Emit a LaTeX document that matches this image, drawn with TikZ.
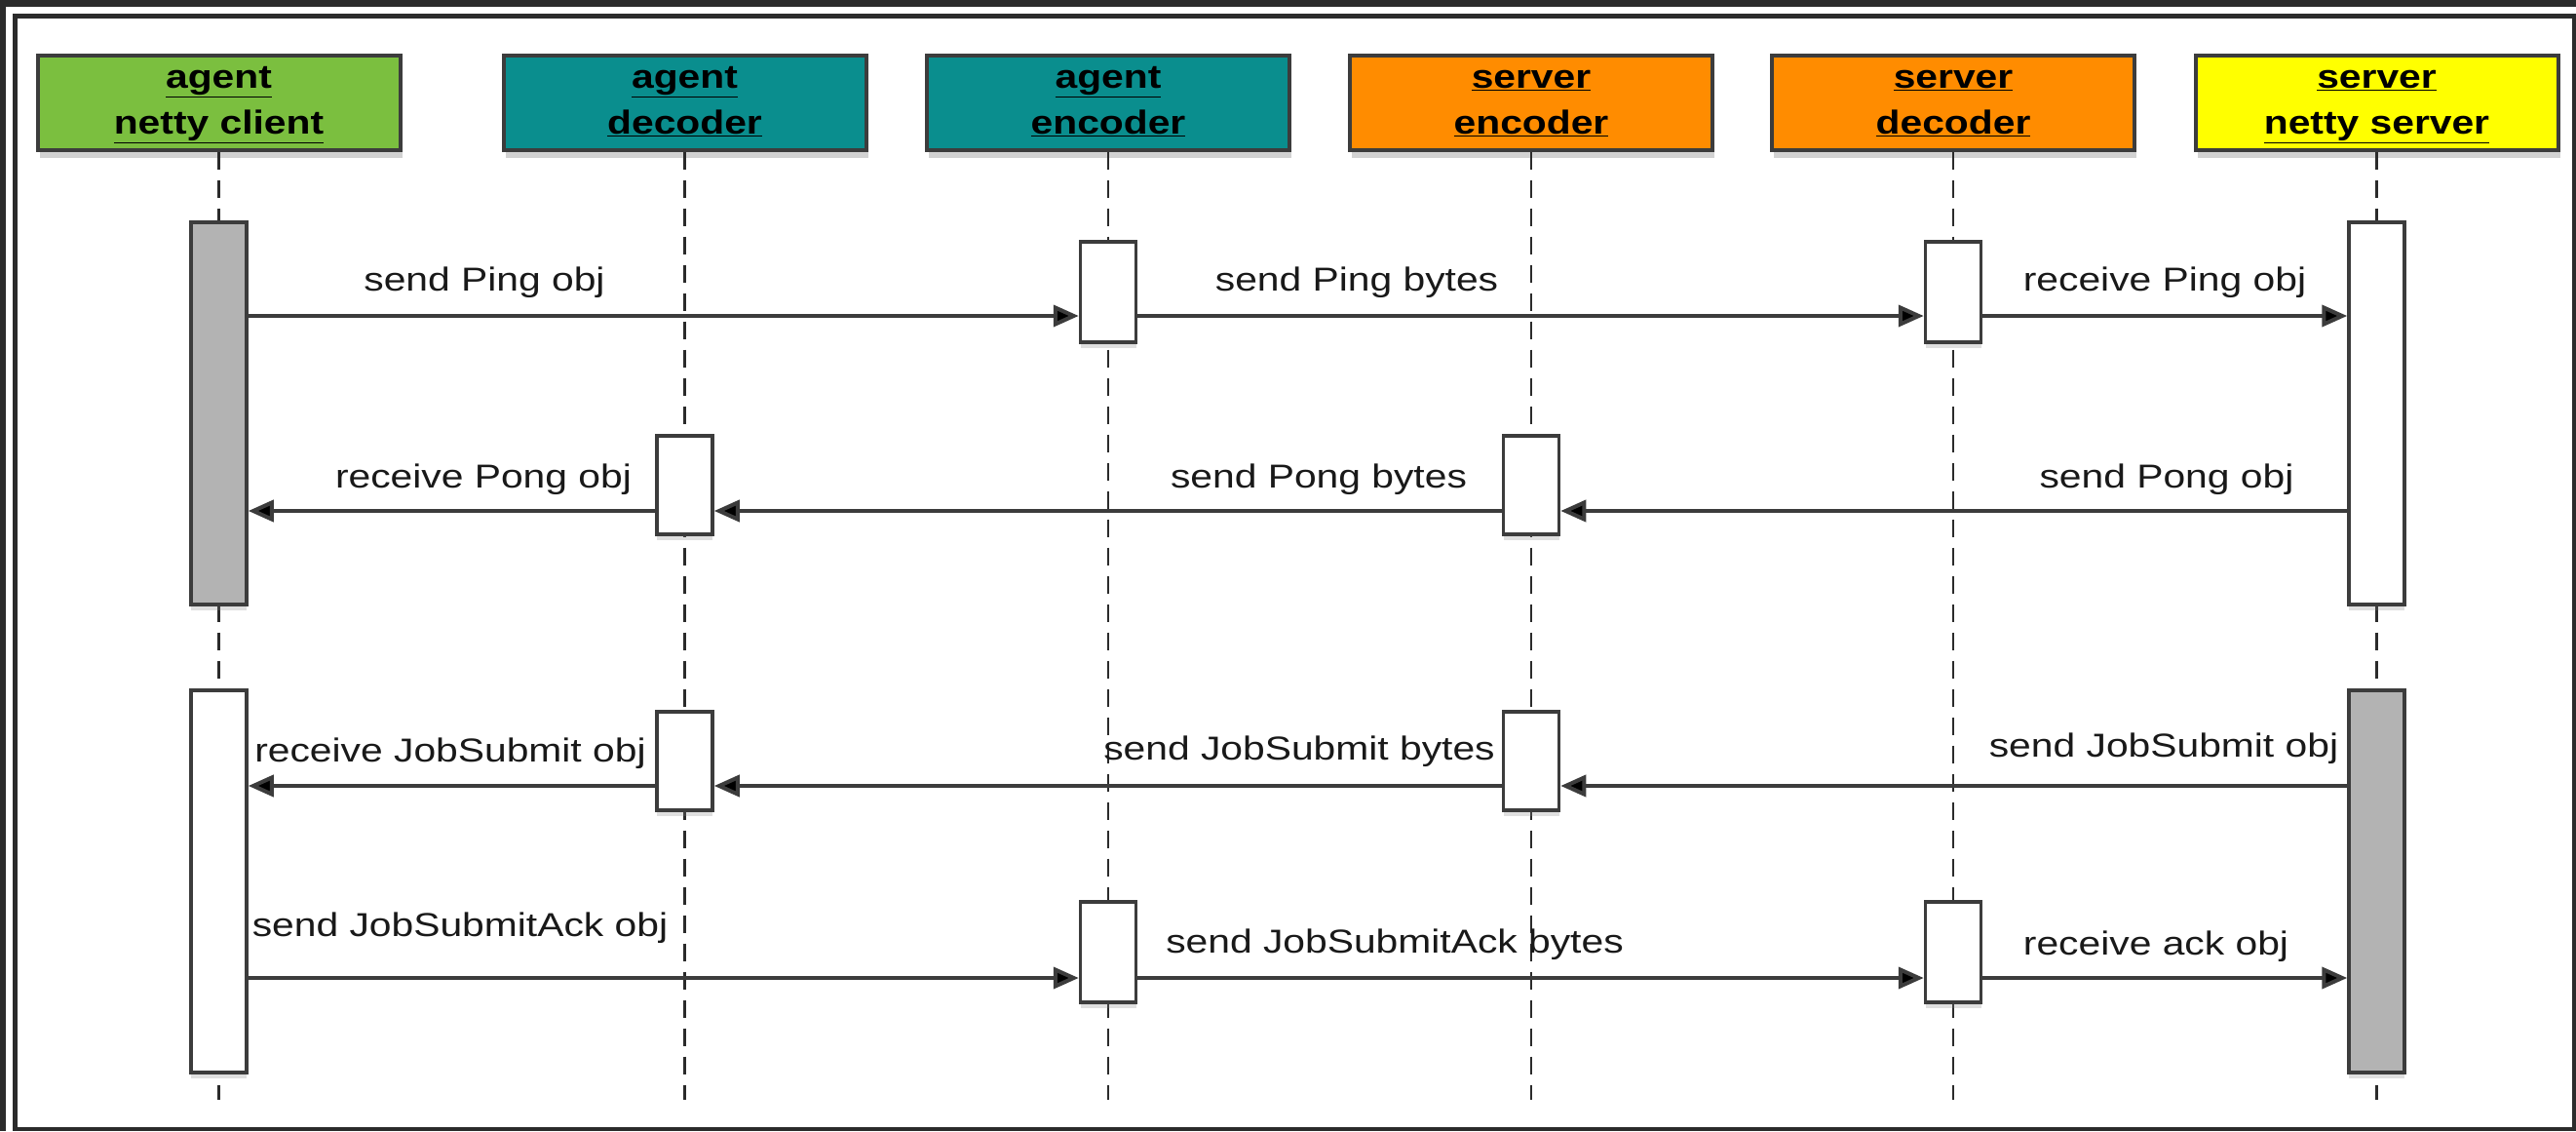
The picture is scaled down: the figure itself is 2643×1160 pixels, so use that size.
\documentclass[tikz,border=0pt]{standalone}
\usepackage{fontspec,graphicx}
\setmainfont{Liberation Sans}
\usetikzlibrary{arrows.meta,shadows,positioning}
\definecolor{frame}{HTML}{2B2B2B}
\definecolor{edge}{HTML}{3C3C3C}
\definecolor{cgreen}{HTML}{7BBF3F}
\definecolor{cteal}{HTML}{0A8E8E}
\definecolor{corange}{HTML}{FF8C00}
\definecolor{cyellow}{HTML}{FFFF00}
\definecolor{actgray}{HTML}{B3B3B3}
\newcommand{\hdtext}[2]{\scalebox{1.2}[1]{\begin{tabular}{@{}c@{}}\underline{#1}\\\underline{#2}\end{tabular}}}

\begin{document}
\begin{tikzpicture}[x=1pt,y=-1pt,
  hd/.style={draw=edge,line width=4pt,minimum width=372pt,minimum height=97pt,inner sep=0pt,
    font=\fontsize{34}{47}\selectfont\bfseries,
    drop shadow={shadow xshift=2pt,shadow yshift=-8pt,opacity=0.35}},
  act/.style={draw=edge,line width=3.5pt,minimum width=57pt,inner sep=0pt,
    drop shadow={shadow xshift=0pt,shadow yshift=-6pt,opacity=0.25}},
  life/.style={draw=frame,line width=2.5pt,dash pattern=on 18pt off 11pt},
  msg/.style={draw=edge,line width=4pt,-{Triangle[length=26pt,width=22pt,fill=black]}},
  lbl/.style={font=\fontsize{34}{40}\selectfont,xscale=1.2,inner sep=0pt,text=black!90}]
  \useasboundingbox (0,0) rectangle (2643,1160);
  % frame round the picture
  \fill[frame] (0,0) rectangle (2643,1160);
  \fill[white] (6,7) rectangle (2643,1160);
  \fill[frame] (13,14) rectangle (2643,1160);
  \fill[white] (18,19) rectangle (2639,1156);
  % participants
  \foreach \n/\x/\c/\a/\b in {nc/224.5/cgreen/agent/netty client,ad/702.5/cteal/agent/decoder,
      ae/1137/cteal/agent/encoder,se/1571/corange/server/encoder,
      sd/2004/corange/server/decoder,ns/2438.5/cyellow/server/netty server}
    \node[hd,fill=\c] (\n) at (\x,105) {\hdtext{\a}{\b}};
  % life lines
  \coordinate (bot) at (0,1128);
  \foreach \n in {nc,ad,ae,se,sd,ns}
    \draw[life] (\n.south) -- (\n.south |- bot);
  % activations
  \foreach \n/\x/\y/\h/\c in {ncA/224.5/424/392pt/actgray,ncB/224.5/904/392pt/white,
      adA/702.5/497.5/101pt/white,adB/702.5/780.5/101pt/white,
      aeA/1137/299.5/103pt/white,aeB/1137/976.5/103pt/white,
      seA/1571/497.5/101pt/white,seB/1571/780.5/101pt/white,
      sdA/2004/299.5/103pt/white,sdB/2004/976.5/103pt/white,
      nsA/2438.5/424/392pt/white,nsB/2438.5/904/392pt/actgray}
    \node[act,fill=\c,minimum height=\h] (\n) at (\x,\y) {};
  % message rows
  \coordinate (m1) at (0,324);
  \coordinate (m2) at (0,524);
  \coordinate (m3) at (0,806);
  \coordinate (m4) at (0,1003);
  \foreach \a/\b/\r in {ncA.east/aeA.west/m1,aeA.east/sdA.west/m1,sdA.east/nsA.west/m1,
      nsA.west/seA.east/m2,seA.west/adA.east/m2,adA.west/ncA.east/m2,
      nsB.west/seB.east/m3,seB.west/adB.east/m3,adB.west/ncB.east/m3,
      ncB.east/aeB.west/m4,aeB.east/sdB.west/m4,sdB.east/nsB.west/m4}
    \draw[msg] (\a |- \r) -- (\b |- \r);
  % message texts
  \foreach \n/\x/\y/\t in {t1a/497/290/send Ping obj,t1b/1392/290/send Ping bytes,
      t1c/2221/290/receive Ping obj,
      t2a/496/492/receive Pong obj,t2b/1353/492/send Pong bytes,t2c/2223/492/send Pong obj,
      t3a/462/773/receive JobSubmit obj,t3b/1333/771/send JobSubmit bytes,
      t3c/2220/768/send JobSubmit obj,
      t4a/472/952/send JobSubmitAck obj,t4b/1431/969/send JobSubmitAck bytes,
      t4c/2212/971/receive ack obj}
    \node[lbl] (\n) at (\x,\y) {\t};
\end{tikzpicture}
\end{document}
